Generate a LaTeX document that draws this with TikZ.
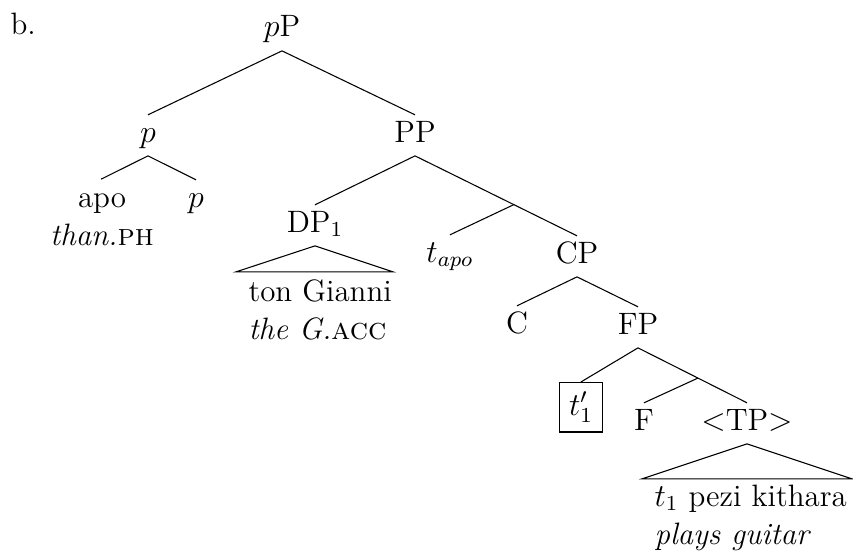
\documentclass[tikz,border=0pt]{standalone}
\usetikzlibrary{calc}
\begin{document}
\begin{tikzpicture}[x=0.375pt,y=-0.375pt,
  every node/.style={font=\fontsize{11.6}{14.6}\selectfont},
  lbl/.style={inner xsep=1pt,inner ysep=2pt,text height=8pt,text depth=3pt,anchor=base},
  leaf/.style={inner sep=0pt},
  edge/.style={line width=0.4pt}]
\useasboundingbox (0,0) rectangle (853,553);
\node[anchor=base west,inner sep=0pt] (b) at (10,34) {b.};
\node[lbl] (pP) at (282,37) {$p$P};
\node[lbl] (p) at (148,142) {$p$};
\node[lbl] (PP) at (415,142) {PP};
\node[leaf,anchor=base] (apo) at (102,207) {\begin{tabular}[t]{@{}c@{}}apo\\ \textit{than.}\textsc{ph}\end{tabular}};
\node[lbl] (pleaf) at (196,207) {$p$};
\node[lbl] (DP) at (315,232) {DP$_1$};
\node[leaf,anchor=base west] (DPleaf) at (248,301) {\begin{tabular}[t]{@{}l@{}}ton Gianni\\ \textit{the G.}\textsc{acc}\end{tabular}};
\node[lbl] (tapo) at (450,262) {$t_{apo}$};
\node[lbl] (CP) at (577,263) {CP};
\node[lbl] (C) at (517,333) {C};
\node[lbl] (FP) at (638,334) {FP};
\node[draw,inner sep=3.4pt,anchor=base] (t1) at (581,415) {$t'_1$};
\node[lbl] (F) at (644,430) {F};
\node[lbl] (TP) at (747,430) {$<$TP$>$};
\node[leaf,anchor=base west] (TPleaf) at (654,506) {\begin{tabular}[t]{@{}l@{}}$t_1$ pezi kithara\\ \textit{plays guitar}\end{tabular}};
% connectors
\draw[edge] (pP.south) -- (p.north);
\draw[edge] (pP.south) -- (PP.north);
\draw[edge] (p.south) -- (apo.north -| 101,180);
\draw[edge] (p.south) -- (pleaf.north);
\draw[edge] (PP.south) -- (DP.north);
\draw[edge] (PP.south) -- (CP.north);
\coordinate (I1) at ($(PP.south)!0.61!(CP.north)$);
\draw[edge] (I1) -- (tapo.north);
\draw[edge] (DP.south) -- ($(DP.south)+(-79,26)$) -- ($(DP.south)+(78,26)$) -- cycle;
\draw[edge] (CP.south) -- (C.north);
\draw[edge] (CP.south) -- (FP.north);
\draw[edge] (FP.south) -- (t1.north);
\draw[edge] (FP.south) -- (TP.north);
\coordinate (I2) at ($(FP.south)!0.55!(TP.north)$);
\draw[edge] (I2) -- (F.north);
\draw[edge] (TP.south) -- ($(TP.south)+(-105,35)$) -- ($(TP.south)+(105,35)$) -- cycle;
\end{tikzpicture}
\end{document}
